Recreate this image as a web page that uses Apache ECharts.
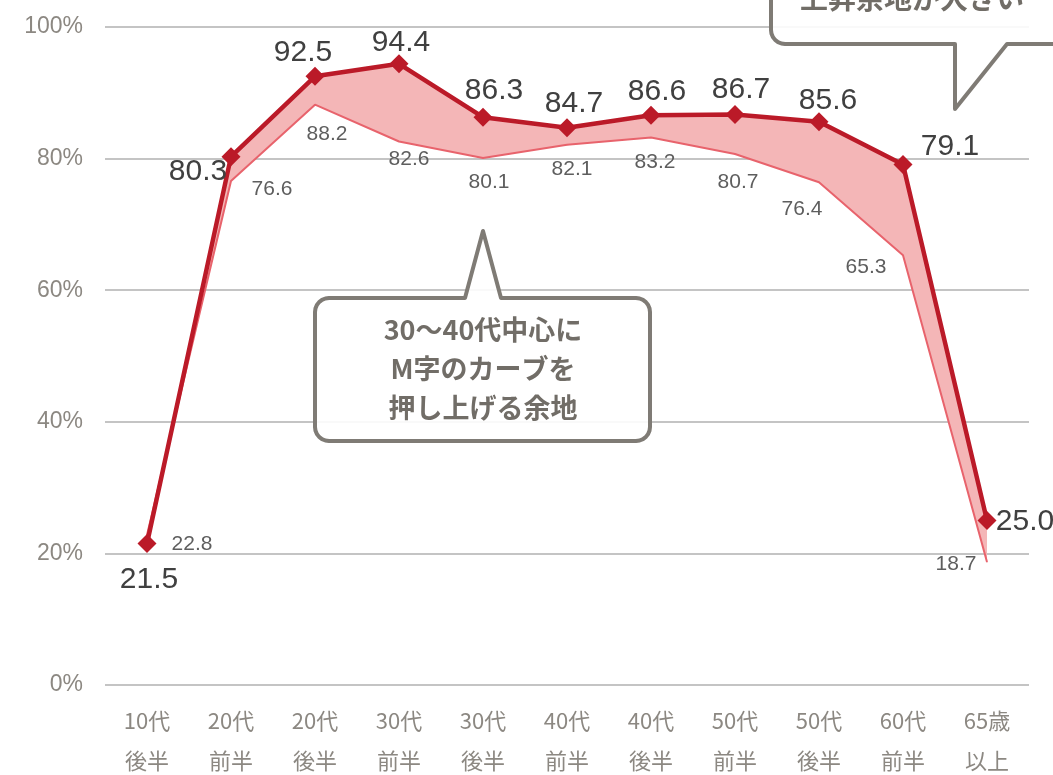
<!DOCTYPE html>
<html>
<head>
<meta charset="utf-8">
<style>
  html, body { margin: 0; padding: 0; background: #fff; }
  #chart { width: 1053px; height: 775px; }
</style>
<script src="https://cdn.jsdelivr.net/npm/echarts@6.0.0/dist/echarts.min.js"></script>
</head>
<body>
<div id="chart"></div>
<script>
// 年齢区分
const categories = ['10代\n後半', '20代\n前半', '20代\n後半', '30代\n前半', '30代\n後半', '40代\n前半',
  '40代\n後半', '50代\n前半', '50代\n後半', '60代\n前半', '65歳\n以上']
// 濃い線（上側）
const upperValues = [21.5, 80.3, 92.5, 94.4, 86.3, 84.7, 86.6, 86.7, 85.6, 79.1, 25.0]
// 薄い線（下側）
const lowerValues = [22.8, 76.6, 88.2, 82.6, 80.1, 82.1, 83.2, 80.7, 76.4, 65.3, 18.7]
const yTicks = [0, 20, 40, 60, 80, 100]

// ラベルのずらし量 [dx, dy]
const upperLabelOffset = [[2, 69], [-33, 48], [-12, 9], [2, 11], [11, 6], [7, 9], [6, 9], [6, 8], [9, 11], [47, 15], [38, 34]]
const lowerLabelOffset = [[45, 25], [41, 24], [12, 46], [10, 34], [6, 40], [5, 40], [4, 41], [3, 44], [-17, 43], [-37, 28], [-31, 18]]

const chart = echarts.init(document.getElementById('chart'))

// 吹き出しの輪郭（角丸の四角＋しっぽ）
function corner (cx, cy, r, a0) {
  const pts = []
  for (let k = 0; k <= 6; k++) {
    const a = a0 + (Math.PI / 2) * (k / 6)
    pts.push([cx + r * Math.cos(a), cy + r * Math.sin(a)])
  }
  return pts
}
function bubble (x0, y0, x1, y1, r, tailPts) {
  let pts = corner(x0 + r, y0 + r, r, Math.PI)
  pts = pts.concat(tailPts)
  pts = pts.concat(corner(x1 - r, y0 + r, r, -Math.PI / 2))
  pts = pts.concat(corner(x1 - r, y1 - r, r, 0))
  pts = pts.concat(corner(x0 + r, y1 - r, r, Math.PI / 2))
  return pts
}
function bubbleBottom (x0, y0, x1, y1, r, tailPts) {
  let pts = [[x0, y0]]
  pts = pts.concat(corner(x0 + r, y1 - r, r, Math.PI / 2).reverse())
  pts = pts.concat(tailPts)
  pts.push([x1, y1])
  pts.push([x1, y0])
  return pts
}

chart.setOption({
  animation: false,
  grid: { left: 105, right: 24, top: 27, bottom: 90, outerBoundsMode: 'none' },
  xAxis: {
    type: 'category',
    data: categories,
    boundaryGap: true,
    axisLine: { show: false },
    axisTick: { show: false },
    axisLabel: {
      color: '#8c8882',
      fontSize: 22,
      lineHeight: 40,
      margin: 16,
      fontFamily: '"Noto Sans CJK JP", sans-serif'
    }
  },
  yAxis: {
    type: 'value',
    min: 0,
    max: 100,
    interval: 20,
    axisLine: { show: false },
    axisTick: { show: false },
    splitLine: { lineStyle: { color: '#c4c4c4', width: 2 } },
    axisLabel: {
      color: '#8c8882',
      fontSize: 23,
      margin: 22,
      fontFamily: '"Liberation Sans", Arial, sans-serif',
      formatter: v => yTicks.includes(v) ? v + '%' : ''
    }
  },
  series: [
    {
      name: 'base',
      type: 'line',
      stack: 'band',
      stackStrategy: 'all',
      data: lowerValues,
      symbol: 'none',
      lineStyle: { opacity: 0 },
      silent: true,
      z: 1
    },
    {
      name: 'band',
      type: 'line',
      stack: 'band',
      stackStrategy: 'all',
      data: upperValues.map((v, i) => +(v - lowerValues[i]).toFixed(1)),
      symbol: 'none',
      lineStyle: { opacity: 0 },
      areaStyle: { color: '#f4b6b7', opacity: 1 },
      silent: true,
      z: 1
    },
    {
      name: 'lower',
      type: 'line',
      data: lowerValues.map((v, i) => ({
        value: v,
        label: { offset: lowerLabelOffset[i] }
      })),
      symbol: 'circle',
      symbolSize: 1,
      itemStyle: { color: '#e8636c' },
      lineStyle: { color: '#e8636c', width: 2 },
      label: {
        show: true,
        position: 'top',
        color: '#5e5e5e',
        fontSize: 21,
        fontFamily: '"Liberation Sans", Arial, sans-serif',
        formatter: p => p.value.toFixed(1)
      },
      z: 3
    },
    {
      name: 'upper',
      type: 'line',
      data: upperValues.map((v, i) => ({
        value: v,
        label: { offset: upperLabelOffset[i] }
      })),
      symbol: 'diamond',
      symbolSize: 19,
      itemStyle: { color: '#bb1a28' },
      lineStyle: { color: '#bb1a28', width: 4.5 },
      label: {
        show: true,
        position: 'top',
        distance: 8,
        color: '#404040',
        fontSize: 30,
        fontFamily: '"Liberation Sans", Arial, sans-serif',
        formatter: p => p.value.toFixed(1)
      },
      z: 4
    }
  ],
  graphic: [
    {
      type: 'polygon',
      z: 10,
      shape: {
        points: bubble(315, 298, 650, 441, 14, [[465, 298], [483, 231], [501, 298]])
      },
      style: { fill: 'rgba(255,255,255,0.9)', stroke: '#7f7b75', lineWidth: 4, lineJoin: 'round' }
    },
    {
      type: 'text',
      z: 11,
      x: 483,
      y: 369,
      style: {
        text: '30〜40代中心に\nM字のカーブを\n押し上げる余地',
        fill: '#716d67',
        font: 'bold 27px "Noto Sans CJK JP", sans-serif',
        align: 'center',
        verticalAlign: 'middle',
        lineHeight: 39
      }
    },
    {
      type: 'polygon',
      z: 10,
      shape: {
        points: bubbleBottom(771, -30, 1090, 44, 14, [[955, 44], [955, 109], [1007, 44]])
      },
      style: { fill: 'rgba(255,255,255,0.9)', stroke: '#7f7b75', lineWidth: 4, lineJoin: 'round' }
    },
    {
      type: 'text',
      z: 11,
      x: 800,
      y: -2,
      style: {
        text: '上昇余地が大きい',
        fill: '#716d67',
        font: 'bold 28px "Noto Sans CJK JP", sans-serif',
        align: 'left',
        verticalAlign: 'middle'
      }
    }
  ]
})
</script>
</body>
</html>
